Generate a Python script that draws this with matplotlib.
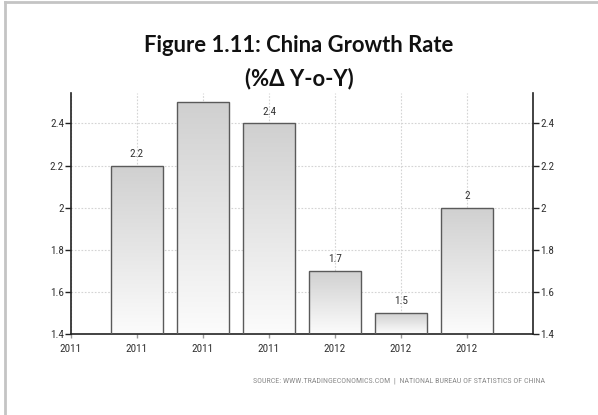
import matplotlib.pyplot as plt
import numpy as np
from matplotlib import font_manager
from matplotlib.colors import LinearSegmentedColormap

# quarterly growth figures (% change y-o-y)
periods = ['2011', '2011', '2011', '2011', '2012', '2012', '2012']
values = [2.2, 2.5, 2.4, 1.7, 1.5, 2.0]
value_labels = ['2.2', '2.5', '2.4', '1.7', '1.5', '2']
yticks = [1.4, 1.6, 1.8, 2.0, 2.2, 2.4]
ytick_labels = ['1.4', '1.6', '1.8', '2', '2.2', '2.4']

title_lines = ['Figure 1.11: China Growth Rate', '(%\u0394 Y-o-Y)']
source = 'SOURCE: WWW.TRADINGECONOMICS.COM  |  NATIONAL BUREAU OF STATISTICS OF CHINA'

# pick a narrow face for the axis text if one is around
available = {f.name for f in font_manager.fontManager.ttflist}
narrow = 'DejaVu Sans'
for name in ['Liberation Sans Narrow', 'DejaVu Sans Condensed', 'Roboto Condensed']:
    if name in available:
        narrow = name
        break
stretch = 'condensed' if narrow == 'DejaVu Sans' else 'normal'

fig = plt.figure(figsize=(5.98, 4.15), dpi=100)
ax = fig.add_axes([0.1187, 0.1952, 0.7726, 0.5808])

ymin, ymax = 1.4, 2.545
x = np.arange(1, len(values) + 1)
bars = ax.bar(x, np.array(values) - ymin, bottom=ymin, width=0.79,
              facecolor='none', edgecolor='#5a5a5a', linewidth=1.0, zorder=3)

# fill each bar with a light vertical gradient
grad_cmap = LinearSegmentedColormap.from_list('bar_grad', ['#fcfcfc', '#d0d0d0'])
grad = np.linspace(0, 1, 256).reshape(-1, 1)
for b in bars:
    x0, y0 = b.get_x(), b.get_y()
    im = ax.imshow(grad, cmap=grad_cmap, aspect='auto', origin='lower',
                   extent=(x0, x0 + b.get_width(), y0, y0 + b.get_height()),
                   zorder=2)
    im.set_clip_path(b)

for xi, v, lab in zip(x, values, value_labels):
    ax.annotate(lab, (xi, v), xytext=(0, 5), textcoords='offset points',
                ha='center', va='bottom', fontsize=8, color='#333333',
                family=narrow, stretch=stretch, clip_on=True, zorder=4)

ax.set_xlim(0, 7)
ax.set_ylim(ymin, ymax)
ax.set_xticks(range(len(periods)))
ax.set_xticklabels(periods)
ax.set_yticks(yticks)
ax.set_yticklabels(ytick_labels)

ax.grid(True, color='#d4d4d4', linestyle=(0, (1.5, 1.5)), linewidth=0.8, zorder=0)
ax.set_axisbelow(True)

ax.spines['top'].set_visible(False)
for side in ['left', 'right', 'bottom']:
    ax.spines[side].set_color('#222222')
    ax.spines[side].set_linewidth(1.2)

ax.tick_params(axis='y', which='both', left=True, right=True, labelleft=True,
               labelright=True, direction='out', length=4, width=1,
               color='#222222', labelsize=8, labelcolor='#333333', pad=1)
ax.tick_params(axis='x', direction='out', length=3, width=1, color='#999999',
               labelsize=8, labelcolor='#333333', pad=4)
for lab in ax.get_xticklabels() + ax.get_yticklabels():
    lab.set_family(narrow)
    lab.set_stretch(stretch)
for t in ax.yaxis.get_major_ticks():
    t.label2.set_family(narrow)
    t.label2.set_stretch(stretch)

# two-line heading
for line, ypos in zip(title_lines, [0.891, 0.810]):
    fig.text(0.5, ypos, line, ha='center', va='center', fontsize=15.8,
             fontweight='bold', family='Lato', color='#111111')

fig.text(0.912, 0.083, source, ha='right', va='center', fontsize=5.8,
         color='#8a8a8a', family=narrow, stretch=stretch)

# outer frame lines along the top and left edge
fig.add_artist(plt.Line2D([0.009, 0.009], [0, 0.996], transform=fig.transFigure,
                          color='#c4c4c4', linewidth=2))
fig.add_artist(plt.Line2D([0.009, 1], [0.996, 0.996], transform=fig.transFigure,
                          color='#c4c4c4', linewidth=2))

fig.savefig('out.png', dpi=100)
